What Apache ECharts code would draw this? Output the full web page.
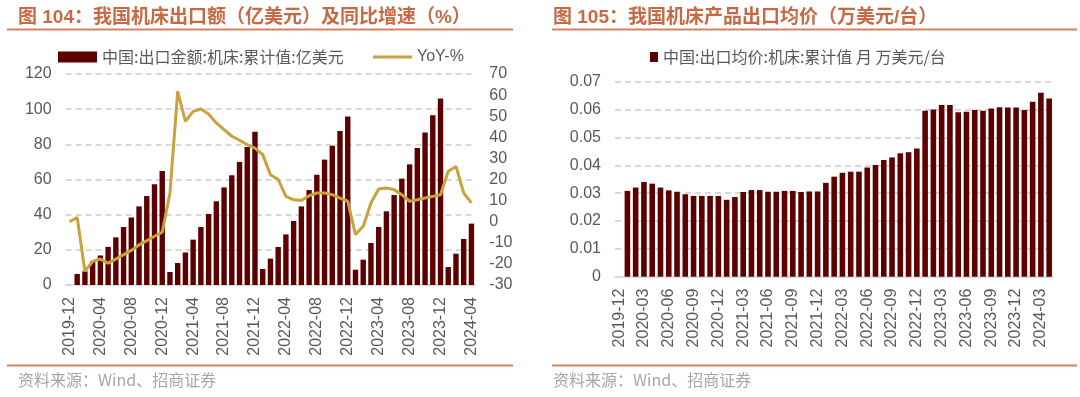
<!DOCTYPE html>
<html>
<head>
<meta charset="utf-8">
<title>机床出口</title>
<script src="https://cdn.jsdelivr.net/npm/echarts@6/dist/echarts.min.js"></script>
<style>
	html, body { margin: 0; padding: 0; background: #fff; }
	#chart { width: 1080px; height: 397px; }
</style>
</head>
<body>
<div id="chart"></div>
<script>
// 月份（两图共用），2019-12 无柱值
var months = [
	'2019-12',
	'2020-01','2020-02','2020-03','2020-04','2020-05','2020-06','2020-07','2020-08','2020-09','2020-10','2020-11','2020-12',
	'2021-01','2021-02','2021-03','2021-04','2021-05','2021-06','2021-07','2021-08','2021-09','2021-10','2021-11','2021-12',
	'2022-01','2022-02','2022-03','2022-04','2022-05','2022-06','2022-07','2022-08','2022-09','2022-10','2022-11','2022-12',
	'2023-01','2023-02','2023-03','2023-04','2023-05','2023-06','2023-07','2023-08','2023-09','2023-10','2023-11','2023-12',
	'2024-01','2024-02','2024-03','2024-04'
];

// 图104 出口金额 累计值 亿美元
var exportAmount = [
	null,
	6.3, 7.8, 13.5, 16.8, 21.7, 27.1, 33.0, 38.4, 44.7, 50.6, 57.3, 64.8,
	7.4, 12.5, 18.5, 25.8, 33.0, 40.4, 47.6, 55.5, 62.4, 70.0, 78.5, 87.2,
	9.1, 15.0, 21.6, 28.8, 36.4, 44.7, 54.0, 62.7, 71.3, 79.2, 87.6, 95.9,
	8.7, 14.4, 23.9, 33.0, 41.9, 51.2, 60.5, 68.6, 77.9, 86.8, 96.5, 106.0,
	10.2, 17.8, 26.2, 34.9
];

// 图104 同比 %
var exportYoY = [
	0, 2, -23.5, -18.8, -17.7, -19.6, -17.7, -15.6, -13.6, -11, -9, -6.9, -5,
	13.6, 61.8, 47.6, 52.3, 53.4, 51.0, 46.8, 43.6, 40.5, 38.6, 36.5, 34.9,
	31.8, 22.3, 20, 12, 10.4, 10.1, 12.3, 13.6, 13.6, 12.8, 11.2, 9.7,
	-6.1, -2.2, 8.9, 15.5, 16, 15.2, 12.8, 9.7, 10.4, 11.2, 12, 12.8,
	23.9, 26.2, 13.6, 8.9
];

// 图105 出口均价 万美元/台
var avgPrice = [
	null,
	0.0308, 0.032, 0.034, 0.0334, 0.032, 0.031, 0.0305, 0.0296, 0.029, 0.029, 0.029, 0.029,
	0.0276, 0.0286, 0.0304, 0.0311, 0.0311, 0.0305, 0.0305, 0.0308, 0.0308, 0.0304, 0.0306, 0.0306,
	0.0337, 0.0359, 0.0373, 0.0377, 0.0377, 0.0392, 0.0401, 0.0419, 0.0428, 0.0443, 0.0447, 0.046,
	0.0596, 0.060, 0.0616, 0.0616, 0.059, 0.0592, 0.0598, 0.0596, 0.0604, 0.0608, 0.0607, 0.0607,
	0.0598, 0.0628, 0.066, 0.064
];

var amountName = '中国:出口金额:机床:累计值:亿美元';
var yoyName = 'YoY-%';
var priceName = '中国:出口均价:机床:累计值 月 万美元/台';

var font = '"Liberation Sans", "Noto Sans CJK SC", sans-serif';
var cjkFont = '"Noto Sans CJK SC", "Liberation Sans", sans-serif';
var labelColor = '#595959';
var titleColor = '#C66A45';
var ruleColor = '#D4825F';
var barColor = '#5C0000';
var lineColor = '#C9A23C';

function splitLine() {
	return { show: true, lineStyle: { color: '#CCCCCC', width: 1.5, type: [6, 4] } };
}

function xAxisFor(gridIndex, interval) {
	return {
		type: 'category',
		gridIndex: gridIndex,
		data: months,
		boundaryGap: true,
		axisLine: { show: true, lineStyle: { color: '#D9D9D9', width: 1.5 } },
		axisTick: { show: false },
		axisLabel: {
			interval: interval, rotate: 90, margin: 12,
			color: labelColor, fontSize: 16, fontFamily: font
		}
	};
}

var myChart = echarts.init(document.getElementById('chart'), null, { renderer: 'canvas' });

var option = {
	backgroundColor: '#fff',
	animation: false,
	title: [
		{ text: '图 104：我国机床出口额（亿美元）及同比增速（%）', left: 18, top: 8, padding: 0,
			textStyle: { color: titleColor, fontSize: 19, fontWeight: 'bold', fontFamily: font } },
		{ text: '图 105：我国机床产品出口均价（万美元/台）', left: 553, top: 8, padding: 0,
			textStyle: { color: titleColor, fontSize: 19, fontWeight: 'bold', fontFamily: font } },
		{ text: '资料来源：Wind、招商证券', left: 18, top: 372, padding: 0,
			textStyle: { color: '#A6A6A6', fontSize: 16, fontWeight: 'normal', fontFamily: cjkFont } },
		{ text: '资料来源：Wind、招商证券', left: 553, top: 372, padding: 0,
			textStyle: { color: '#A6A6A6', fontSize: 16, fontWeight: 'normal', fontFamily: cjkFont } }
	],
	graphic: [
		{ type: 'line', shape: { x1: 7, y1: 29.5, x2: 513, y2: 29.5 }, style: { stroke: ruleColor, lineWidth: 2 } },
		{ type: 'line', shape: { x1: 7, y1: 365.5, x2: 513, y2: 365.5 }, style: { stroke: ruleColor, lineWidth: 2 } },
		{ type: 'line', shape: { x1: 552, y1: 29.5, x2: 1077, y2: 29.5 }, style: { stroke: ruleColor, lineWidth: 2 } },
		{ type: 'line', shape: { x1: 552, y1: 365.5, x2: 1077, y2: 365.5 }, style: { stroke: ruleColor, lineWidth: 2 } }
	],
	legend: [
		{ data: [amountName], left: 58, top: 49, padding: 0, icon: 'rect', itemWidth: 39, itemHeight: 11,
			textStyle: { color: labelColor, fontSize: 16, fontFamily: cjkFont } },
		// 折线图例只画一条粗线
		{ data: [yoyName], left: 373, top: 49, padding: 0, icon: 'rect', itemWidth: 39, itemHeight: 3,
			textStyle: { color: labelColor, fontSize: 16, fontFamily: font } },
		{ data: [priceName], left: 650, top: 49, padding: 0, icon: 'rect', itemWidth: 8, itemHeight: 10, itemGap: 6,
			textStyle: { color: labelColor, fontSize: 16, fontFamily: cjkFont } }
	],
	grid: [
		{ left: 65.6, top: 74, width: 409.7, height: 211, containLabel: false, outerBoundsMode: 'none' },
		{ left: 615, top: 81.7, width: 438.3, height: 195, containLabel: false, outerBoundsMode: 'none' }
	],
	xAxis: [ xAxisFor(0, 3), xAxisFor(1, 2) ],
	yAxis: [
		{ type: 'value', gridIndex: 0, min: 0, max: 120, interval: 20,
			axisLine: { show: false }, axisTick: { show: false }, splitLine: splitLine(),
			axisLabel: { color: labelColor, fontSize: 16, fontFamily: font, margin: 14 } },
		{ type: 'value', gridIndex: 0, position: 'right', min: -30, max: 70, interval: 10,
			axisLine: { show: false }, axisTick: { show: false }, splitLine: { show: false },
			axisLabel: { color: labelColor, fontSize: 16, fontFamily: font, margin: 14 } },
		{ type: 'value', gridIndex: 1, min: 0, max: 0.07, interval: 0.01,
			axisLine: { show: false }, axisTick: { show: false }, splitLine: splitLine(),
			axisLabel: { color: labelColor, fontSize: 16, fontFamily: font, margin: 14 } }
	],
	series: [
		{ name: amountName, type: 'bar', xAxisIndex: 0, yAxisIndex: 0, data: exportAmount,
			barWidth: 5.4, itemStyle: { color: barColor } },
		{ name: yoyName, type: 'line', xAxisIndex: 0, yAxisIndex: 1, data: exportYoY,
			symbol: 'none', showSymbol: false, lineStyle: { color: lineColor, width: 3 },
			itemStyle: { color: lineColor } },
		{ name: priceName, type: 'bar', xAxisIndex: 1, yAxisIndex: 2, data: avgPrice,
			barWidth: 5.6, itemStyle: { color: barColor } }
	]
};

myChart.setOption(option);
</script>
</body>
</html>
